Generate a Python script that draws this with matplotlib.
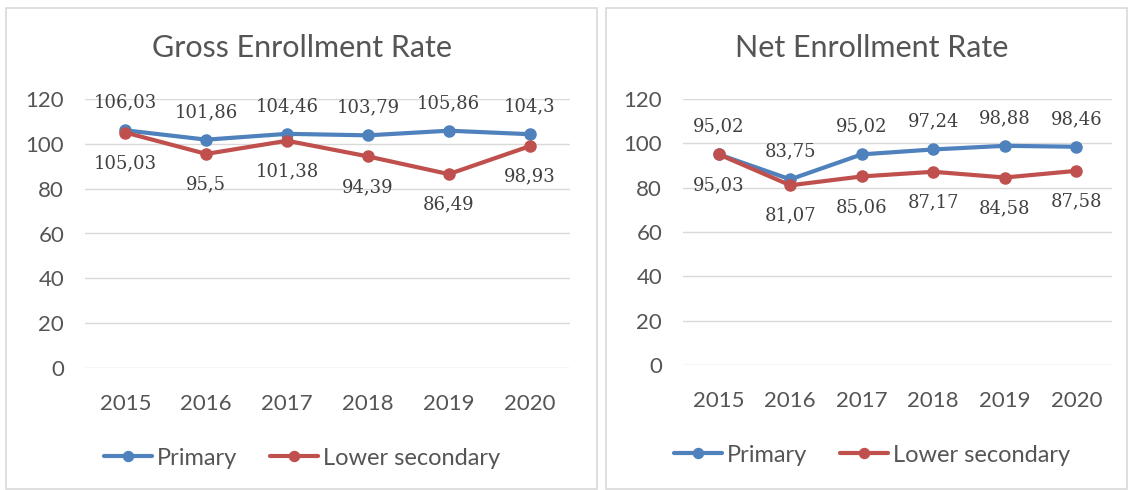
import matplotlib
matplotlib.use('Agg')
import matplotlib.pyplot as plt
from matplotlib.patches import Rectangle

years = ['2015', '2016', '2017', '2018', '2019', '2020']

gross_primary = [106.03, 101.86, 104.46, 103.79, 105.86, 104.3]
gross_lower = [105.03, 95.5, 101.38, 94.39, 86.49, 98.93]

net_primary = [95.02, 83.75, 95.02, 97.24, 98.88, 98.46]
net_lower = [95.03, 81.07, 85.06, 87.17, 84.58, 87.58]

blue = '#4F81BD'
red = '#C0504D'
txt = '#555555'
grid = '#D9D9D9'

plt.rcParams['font.family'] = ['Lato', 'DejaVu Sans']

fig = plt.figure(figsize=(11.28, 4.9), dpi=100)

W, H = 1128.0, 490.0


def px_box(x0, y0, x1, y1):
    # pixel box (top-left origin) -> figure fraction rect
    return [x0 / W, 1 - y1 / H, (x1 - x0) / W, (y1 - y0) / H]


# panel frames
for x0, x1 in [(6, 597), (606, 1127)]:
    fig.patches.append(Rectangle((x0 / W, 1 - 489 / H), (x1 - x0) / W, 481 / H,
                                 transform=fig.transFigure, fill=False,
                                 edgecolor=grid, linewidth=1.2))


def fmt(v):
    s = ('%.2f' % v).rstrip('0').rstrip('.')
    return s.replace('.', ',')


def draw(rect, title, center_x, prim, low, leg_y):
    ax = fig.add_axes(px_box(*rect))
    xs = list(range(len(years)))
    ax.plot(xs, prim, color=blue, lw=3, marker='o', ms=8, label='Primary',
            solid_capstyle='round', zorder=3)
    ax.plot(xs, low, color=red, lw=3, marker='o', ms=8, label='Lower secondary',
            solid_capstyle='round', zorder=3)
    for i in xs:
        ax.annotate(fmt(prim[i]), (i, prim[i]), xytext=(0, 20), textcoords='offset points',
                    ha='center', va='center', fontsize=13, color='#404040',
                    family='DejaVu Serif')
        ax.annotate(fmt(low[i]), (i, low[i]), xytext=(0, -22), textcoords='offset points',
                    ha='center', va='center', fontsize=13, color='#404040',
                    family='DejaVu Serif')
    ax.set_xlim(-0.5, len(years) - 0.5)
    ax.set_ylim(0, 120)
    ax.set_yticks(range(0, 121, 20))
    ax.set_xticks(xs)
    ax.set_xticklabels(years)
    ax.yaxis.grid(True, color=grid, lw=1)
    ax.set_axisbelow(True)
    for s in ax.spines.values():
        s.set_visible(False)
    ax.tick_params(length=0, labelsize=16, colors=txt)
    ax.tick_params(axis='x', pad=19)
    ax.tick_params(axis='y', pad=15)
    fig.legend(*ax.get_legend_handles_labels(), loc='center',
               bbox_to_anchor=(center_x / W, 1 - leg_y / H), ncol=2, frameon=False,
               fontsize=17, handlelength=2.05, columnspacing=1.4, handletextpad=0.2,
               labelcolor=txt, markerscale=0.9)
    fig.text(center_x / W, 1 - 48 / H, title, ha='center', va='center',
             fontsize=22, color=txt)
    return ax


draw((85, 99, 570, 368), 'Gross Enrollment Rate', 302, gross_primary, gross_lower, 458)
draw((683, 99, 1112, 365), 'Net Enrollment Rate', 872, net_primary, net_lower, 455)

fig.savefig('out.png', dpi=100)
